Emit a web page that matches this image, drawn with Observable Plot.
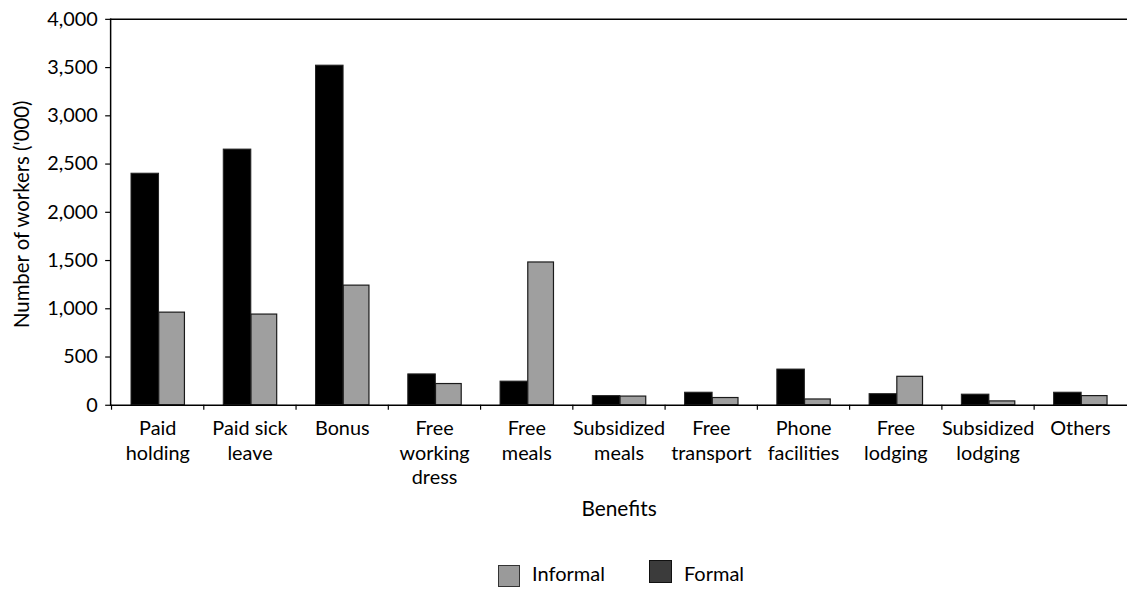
<!DOCTYPE html>
<html>
<head>
<meta charset="utf-8">
<script src="https://cdn.jsdelivr.net/npm/d3@7"></script>
<script src="https://cdn.jsdelivr.net/npm/@observablehq/plot@0.6"></script>
<style>
  html, body { margin: 0; padding: 0; background: #fff; overflow: hidden; width: 1127px; height: 591px; }
  #chart svg { display: block; }
  #legend { display: flex; align-items: center; padding-left: 498px; height: 46px; box-sizing: border-box; font-family: Lato, sans-serif; font-size: 20px; color: #000; }
  .item { display: flex; align-items: center; }
  .sw { box-sizing: border-box; margin-right: 12px; }
</style>
</head>
<body>
<div id="chart"></div>
<div id="legend"></div>
<script>
const categories = ["Paid holding", "Paid sick leave", "Bonus", "Free working dress", "Free meals", "Subsidized meals", "Free transport", "Phone facilities", "Free lodging", "Subsidized lodging", "Others"];
const tickLabels = ["Paid\nholding", "Paid sick\nleave", "Bonus", "Free\nworking\ndress", "Free\nmeals", "Subsidized\nmeals", "Free\ntransport", "Phone\nfacilities", "Free\nlodging", "Subsidized\nlodging", "Others"];
const formal = [2400, 2650, 3520, 320, 245, 95, 130, 370, 115, 110, 130];
const informal = [960, 940, 1240, 220, 1480, 90, 75, 60, 295, 40, 95];
const yTicks = [0, 500, 1000, 1500, 2000, 2500, 3000, 3500, 4000];

const formalData = categories.map((c, i) => ({category: c, value: formal[i]}));
const informalData = categories.map((c, i) => ({category: c, value: informal[i]}));
const labelOf = new Map(categories.map((c, i) => [c, tickLabels[i]]));

const W = 1136, ML = 111;
const bw = (W - ML) / categories.length;

const plot = Plot.plot({
  width: W,
  height: 545,
  marginLeft: ML,
  marginRight: 0,
  marginTop: 19,
  marginBottom: 137,
  style: {fontFamily: "Lato, sans-serif", fontSize: "20px", color: "#000", background: "#fff", overflow: "visible"},
  x: {domain: categories, padding: 0, axis: null},
  y: {domain: [0, 4000], axis: null},
  marks: [
    Plot.barY(formalData, {x: "category", y: "value", fill: "#000", stroke: "#222", strokeWidth: 1, insetLeft: bw * 0.215, insetRight: bw * 0.485}),
    Plot.barY(informalData, {x: "category", y: "value", fill: "#9f9f9f", stroke: "#1a1a1a", strokeWidth: 1.2, insetLeft: bw * 0.515, insetRight: bw * 0.205}),
    Plot.ruleY([0], {stroke: "#000", strokeWidth: 1.5}),
    Plot.ruleY([4000], {stroke: "#000", strokeWidth: 1.5}),
    Plot.frame({anchor: "left", stroke: "#000", strokeWidth: 1.5}),
    Plot.axisY({ticks: yTicks, tickSize: 5, tickPadding: 8, tickFormat: d3.format(","), label: null, stroke: "#000", strokeWidth: 1.2, fontSize: 20}),
    Plot.axisX({tickSize: 5, text: null, dx: -bw / 2, label: null, stroke: "#000", strokeWidth: 1.2}),
    Plot.axisX({tickSize: 0, tickPadding: 13, tickFormat: d => labelOf.get(d), lineHeight: 1.22, label: null, fontSize: 20}),
    Plot.text(["Number of workers ('000)"], {frameAnchor: "left", textAnchor: "middle", text: d => d, rotate: -90, dx: -89, dy: 2, fill: "#000", fontSize: 20.5}),
    Plot.text(["Benefits"], {frameAnchor: "bottom", text: d => d, dy: 112, fill: "#000", fontSize: 21})
  ]
});
document.getElementById("chart").appendChild(plot);

const legendItems = [
  {label: "Informal", fill: "#9a9a9a", stroke: "#333", size: 22, offset: 3},
  {label: "Formal", fill: "#3b3b3b", stroke: "#111", size: 23, offset: -1}
];
const legend = document.getElementById("legend");
legendItems.forEach((it, i) => {
  const item = document.createElement("div");
  item.className = "item";
  if (i > 0) item.style.marginLeft = "44px";
  const sw = document.createElement("div");
  sw.className = "sw";
  sw.style.width = it.size + "px";
  sw.style.height = it.size + "px";
  sw.style.background = it.fill;
  sw.style.border = "1.5px solid " + it.stroke;
  sw.style.position = "relative";
  sw.style.top = it.offset + "px";
  const t = document.createElement("span");
  t.textContent = it.label;
  item.appendChild(sw);
  item.appendChild(t);
  legend.appendChild(item);
});
legend.style.paddingTop = "18px";
</script>
</body>
</html>
